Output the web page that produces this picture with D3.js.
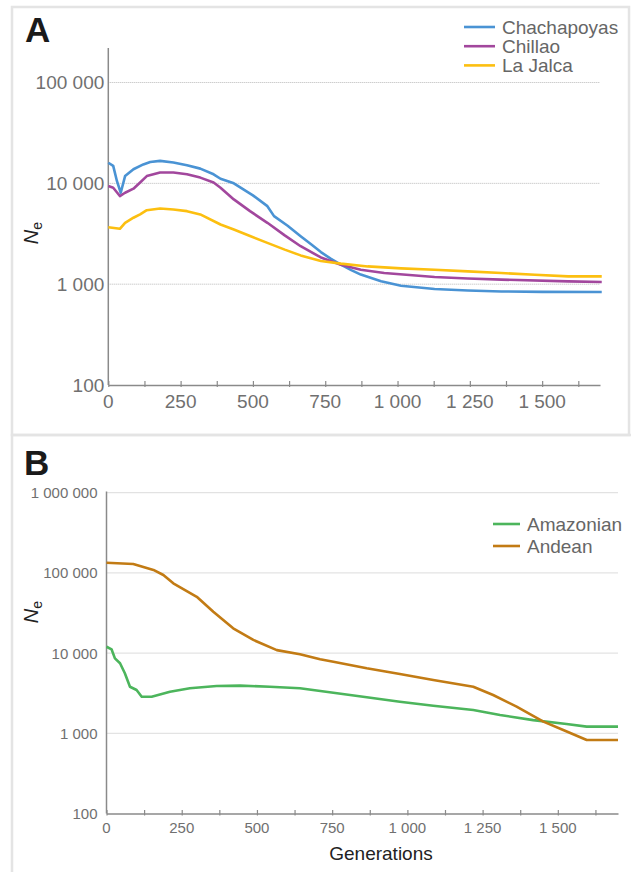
<!DOCTYPE html>
<html>
<head>
<meta charset="utf-8">
<script src="https://cdn.jsdelivr.net/npm/d3@7"></script>
<style>
  body { margin: 0; background: #fff; }
  svg { font-family: "Liberation Sans", Arial, sans-serif; }
</style>
</head>
<body>
<div id="chart"></div>
<script>
// panel A: generations / Ne values
var genA_chacha = [0, 17, 30, 43, 58, 87, 121, 145, 179, 225, 272, 318, 364, 388, 434, 500, 550, 573, 620, 665, 700, 735, 770, 804, 840, 873, 943, 1012, 1128, 1243, 1359, 1500, 1706];
var neA_chacha = [16000, 14900, 10500, 8070, 11800, 13800, 15400, 16300, 16700, 16100, 15100, 14000, 12300, 11100, 10000, 7600, 5940, 4730, 3800, 2990, 2500, 2080, 1780, 1560, 1380, 1245, 1067, 966, 896, 867, 847, 838, 835];
var genA_chill = [0, 17, 40, 58, 87, 110, 133, 179, 225, 272, 318, 364, 388, 434, 490, 550, 610, 665, 735, 804, 873, 954, 1128, 1243, 1359, 1590, 1706];
var neA_chill = [9400, 9050, 7480, 8070, 8850, 10200, 11800, 12800, 12800, 12300, 11400, 10200, 9060, 6930, 5300, 4060, 3050, 2380, 1840, 1560, 1390, 1290, 1180, 1140, 1110, 1067, 1050];
var genA_jalca = [0, 40, 58, 87, 110, 133, 179, 225, 272, 318, 388, 434, 490, 550, 610, 665, 735, 804, 897, 1012, 1128, 1243, 1359, 1475, 1590, 1706];
var neA_jalca = [3670, 3540, 4060, 4560, 4920, 5420, 5640, 5510, 5300, 4920, 3910, 3480, 3000, 2570, 2200, 1930, 1700, 1600, 1500, 1435, 1390, 1340, 1290, 1240, 1195, 1195];

// panel B
var genB_amaz = [0, 17, 28, 45, 61, 78, 100, 117, 150, 211, 277, 366, 444, 543, 643, 754, 865, 975, 1086, 1219, 1308, 1418, 1529, 1596, 1700];
var neB_amaz = [12000, 11100, 8600, 7460, 5600, 3810, 3470, 2860, 2860, 3300, 3640, 3890, 3930, 3810, 3640, 3200, 2810, 2480, 2210, 1950, 1690, 1460, 1305, 1210, 1210];
var genB_andean = [0, 89, 156, 189, 222, 300, 355, 421, 488, 566, 643, 710, 754, 865, 975, 1086, 1219, 1285, 1363, 1452, 1518, 1596, 1700];
var neB_andean = [134000, 129000, 109000, 94200, 74200, 50400, 32800, 20400, 14600, 10900, 9660, 8380, 7810, 6460, 5480, 4620, 3810, 3000, 2150, 1400, 1100, 824, 824];

var seriesA = ["Chachapoyas", "Chillao", "La Jalca"];
var seriesB = ["Amazonian", "Andean"];
var colorsA = ["#4a93d4", "#a2479d", "#fcbf10"];
var colorsB = ["#4cb55c", "#c27b14"];

var xTicks = [0, 125, 250, 375, 500, 625, 750, 875, 1000, 1125, 1250, 1375, 1500, 1625];
var xLabels = [0, 250, 500, 750, 1000, 1250, 1500];
var yTicksA = [100, 1000, 10000, 100000];
var yTicksB = [100, 1000, 10000, 100000, 1000000];

var loc = d3.formatLocale({ decimal: ".", thousands: " ", grouping: [3], currency: ["", ""] });
var fmt = loc.format(",d");

var W = 631, H = 872;
var svg = d3.select("#chart").append("svg").attr("width", W).attr("height", H);

// panel frames
svg.append("rect").attr("x", 12).attr("y", 7).attr("width", 617).attr("height", 428)
    .attr("fill", "none").attr("stroke", "#e4e4e4").attr("stroke-width", 2.5);
svg.append("path").attr("d", "M12,872V435H631")
    .attr("fill", "none").attr("stroke", "#e4e4e4").attr("stroke-width", 2.5);

function panel(opt) {
    var x = d3.scaleLinear().domain([0, 1700]).range(opt.xr);
    var y = d3.scaleLog().domain(opt.yd).range(opt.yr);
    var g = svg.append("g");
    var y0 = y(100);

    // grid
    g.selectAll(".grid").data(opt.yTicks.slice(1)).enter().append("line")
        .attr("x1", x(0)).attr("x2", x(1700))
        .attr("y1", function (d) { return y(d); }).attr("y2", function (d) { return y(d); })
        .attr("stroke", "#b8b8b8").attr("stroke-width", 1).attr("stroke-dasharray", "1,1");

    // y axis line
    g.append("line").attr("x1", x(0)).attr("x2", x(0)).attr("y1", opt.yTop).attr("y2", y0)
        .attr("stroke", "#8a8a8a").attr("stroke-width", 1.5);
    g.selectAll(".ylab").data(opt.yTicks).enter().append("text")
        .attr("x", x(0) - opt.yGap).attr("y", function (d) { return y(d); })
        .attr("dy", "0.36em").attr("text-anchor", "end")
        .attr("font-size", opt.yFont).attr("fill", "#707070")
        .text(function (d) { return fmt(d); });

    // x axis
    var xa = d3.axisBottom(x).tickValues(xTicks).tickSize(0).tickFormat("");
    var xg = g.append("g").attr("transform", "translate(0," + y0 + ")").call(xa);
    xg.select(".domain").attr("stroke", "#8a8a8a").attr("stroke-width", 1.5);
    xg.selectAll(".tick line").attr("y1", -opt.tickUp).attr("y2", 2)
        .attr("stroke", "#8a8a8a").attr("stroke-width", 1.2);
    g.selectAll(".xlab").data(xLabels).enter().append("text")
        .attr("x", function (d) { return x(d); }).attr("y", opt.xLabY)
        .attr("text-anchor", "middle").attr("font-size", opt.xFont).attr("fill", "#707070")
        .text(function (d) { return fmt(d); });

    // lines
    var line = d3.line().x(function (d) { return x(d[0]); }).y(function (d) { return y(d[1]); });
    opt.lines.forEach(function (s, i) {
        var pts = d3.zip(s[0], s[1]);
        g.append("path").datum(pts).attr("d", line)
            .attr("fill", "none").attr("stroke", opt.colors[i]).attr("stroke-width", 2.6)
            .attr("stroke-linejoin", "round");
    });

    // legend
    opt.names.forEach(function (n, i) {
        var ly = opt.legY + i * opt.legStep;
        g.append("line").attr("x1", opt.legX).attr("x2", opt.legX + opt.legLen)
            .attr("y1", ly).attr("y2", ly).attr("stroke", opt.colors[i]).attr("stroke-width", 2.6);
        g.append("text").attr("x", opt.legX + opt.legLen + 7).attr("y", ly).attr("dy", "0.35em")
            .attr("font-size", 19).attr("fill", "#666").text(n);
    });

    // Ne label
    var ne = g.append("text").attr("transform", "translate(38," + opt.neY + ") rotate(-90)")
        .attr("text-anchor", "middle").attr("font-size", 20).attr("fill", "#222");
    ne.append("tspan").attr("font-style", "italic").text("N");
    ne.append("tspan").attr("font-size", 14).attr("dy", 4).text("e");

    // panel letter
    svg.append("text").attr("x", opt.letX).attr("y", opt.letY).attr("font-size", 35)
        .attr("font-weight", "bold").attr("fill", "#1a1a1a").text(opt.letter);
}

panel({
    xr: [108.3, 600], yd: [100, 220000], yr: [385, 48], yTop: 48,
    yTicks: yTicksA, yFont: 19, yGap: 4, xFont: 19, xLabY: 407.5, tickUp: 4,
    lines: [[genA_chacha, neA_chacha], [genA_chill, neA_chill], [genA_jalca, neA_jalca]],
    colors: colorsA, names: seriesA,
    legX: 464, legLen: 31, legY: 27, legStep: 19.2,
    neY: 233, letter: "A", letX: 25, letY: 42
});

panel({
    xr: [106.5, 618], yd: [100, 1000000], yr: [813.5, 492.7], yTop: 491.5,
    yTicks: yTicksB, yFont: 15, yGap: 9, xFont: 15, xLabY: 833, tickUp: 3.5,
    lines: [[genB_amaz, neB_amaz], [genB_andean, neB_andean]],
    colors: colorsB, names: seriesB,
    legX: 493, legLen: 27, legY: 524, legStep: 22,
    neY: 612, letter: "B", letX: 24, letY: 475
});

svg.append("text").attr("x", 381).attr("y", 860).attr("text-anchor", "middle")
    .attr("font-size", 19).attr("fill", "#222").text("Generations");
</script>
</body>
</html>
